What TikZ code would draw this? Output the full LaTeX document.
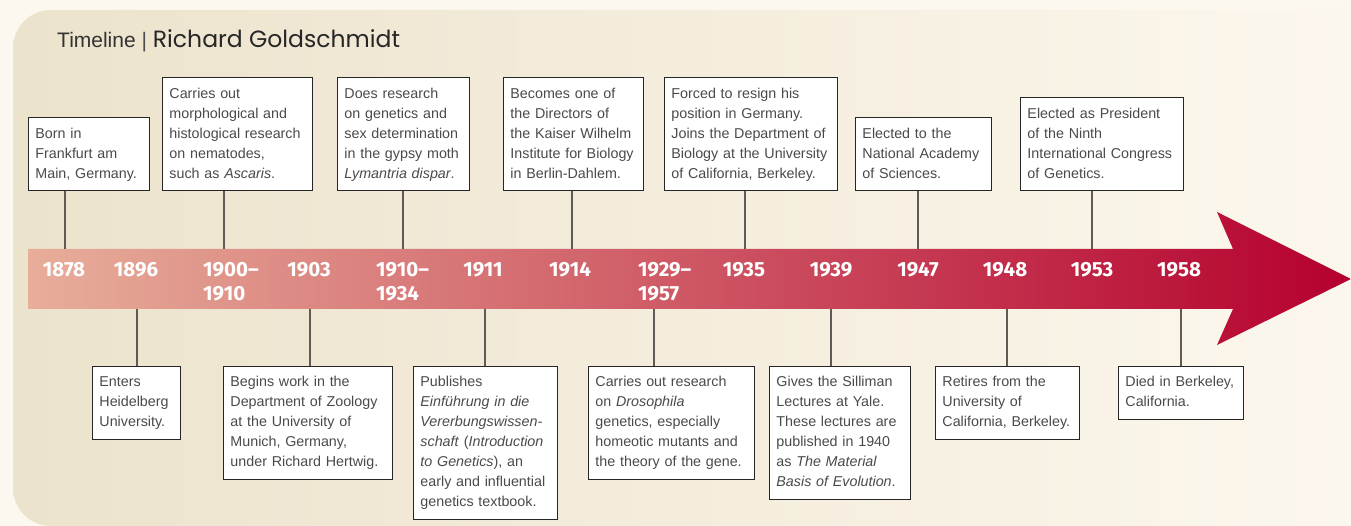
\documentclass[tikz,border=0pt]{standalone}
\usepackage{fontspec}
\setmainfont{Liberation Sans}
\newfontfamily\yearfont{Fira Sans}
\newfontfamily\titlefont{Poppins}
\usetikzlibrary{positioning}
\definecolor{bgCream}{HTML}{FDF8EF}
\definecolor{panelL}{HTML}{ECE3CC}
\definecolor{panelM}{HTML}{F3ECDC}
\definecolor{arrowL}{HTML}{E7AE9A}
\definecolor{arrowM}{HTML}{D47A69}
\definecolor{arrowR}{HTML}{B5002E}
\definecolor{bodyGray}{HTML}{4A4A4A}
\definecolor{tickGray}{HTML}{5F5A55}

\begin{document}
\begin{tikzpicture}[
    x=1pt, y=-1pt,
    font=\fontsize{14.3}{20}\selectfont,
    evt/.style={draw=black!85, line width=0.9pt, fill=white, text=bodyGray,
                align=left, inner xsep=7pt, inner ysep=6.5pt,
                execute at begin node={\hyphenpenalty=10000\strut}, execute at end node=\strut},
    up/.style={evt, anchor=south west},
    down/.style={evt, anchor=north west},
    yr/.style={text=white, inner sep=0pt, align=left,
               font=\yearfont\bfseries\fontsize{20.5}{24}\selectfont},
    tick/.style={draw=tickGray, line width=1.4pt},
  ]
    % background and panel
    \fill[bgCream] (0,0) rectangle (1351,526);
    \useasboundingbox (0,0) rectangle (1351,526);
    \shade[left color=panelL, middle color=panelM, right color=bgCream, rounded corners=38pt]
      (1420,10) -- (13,10) -- (13,526) -- (1420,526) -- cycle;

    % title
    \node[anchor=base west, inner sep=0pt, font=\fontsize{21}{24}\selectfont] (title) at (57,48)
      {\color{black!80}Timeline \textcolor{black!70}{|} {\titlefont\fontsize{23.5}{24}\selectfont\color{black!85}Richard Goldschmidt}};

    % the arrow
    \shade[left color=arrowL, middle color=arrowM, right color=arrowR]
      (28,249) -- (1233,249) -- (1217,212) -- (1351,279) -- (1217,345)
      -- (1233,309) -- (28,309) -- cycle;

    % tick points on the bar
    \coordinate (k1878) at (65,249);
    \coordinate (k1896) at (137,309);
    \coordinate (k1900) at (224,249);
    \coordinate (k1903) at (310,309);
    \coordinate (k1910) at (403,249);
    \coordinate (k1911) at (485,309);
    \coordinate (k1914) at (572,249);
    \coordinate (k1929) at (654,309);
    \coordinate (k1935) at (745,249);
    \coordinate (k1939) at (831,309);
    \coordinate (k1947) at (918,249);
    \coordinate (k1948) at (1007,309);
    \coordinate (k1953) at (1092,249);
    \coordinate (k1958) at (1181,309);

    % years
    \node[yr, anchor=north] (y1878) at (64,262) {1878};
    \node[yr, anchor=north] (y1896) at (136,262) {1896};
    \node[yr, anchor=north west] (y1900) at (203,262) {1900–\\1910};
    \node[yr, anchor=north] (y1903) at (309,262) {1903};
    \node[yr, anchor=north west] (y1910) at (376,262) {1910–\\1934};
    \node[yr, anchor=north] (y1911) at (483,262) {1911};
    \node[yr, anchor=north] (y1914) at (570,262) {1914};
    \node[yr, anchor=north west] (y1929) at (638,262) {1929–\\1957};
    \node[yr, anchor=north] (y1935) at (744,262) {1935};
    \node[yr, anchor=north] (y1939) at (831,262) {1939};
    \node[yr, anchor=north] (y1947) at (918,262) {1947};
    \node[yr, anchor=north] (y1948) at (1005,262) {1948};
    \node[yr, anchor=north] (y1953) at (1092,262) {1953};
    \node[yr, anchor=north] (y1958) at (1179,262) {1958};

    % events above the arrow
    \node[up, text width=107pt] (born) at (28,191)
      {Born in\\Frankfurt am\\Main, Germany.};
    \node[up, text width=136pt] (morph) at (162,191)
      {Carries out\\morphological and\\histological research\\on nematodes,\\such as \textit{Ascaris}.};
    \node[up, text width=118pt] (moth) at (337,191)
      {Does research\\on genetics and\\sex determination\\in the gypsy moth\\\textit{Lymantria dispar}.};
    \node[up, text width=126pt] (kwi) at (503,191)
      {Becomes one of\\the Directors of\\the Kaiser Wilhelm\\Institute for Biology\\in Berlin-Dahlem.};
    \node[up, text width=159pt] (resign) at (664,191)
      {Forced to resign his\\position in Germany.\\Joins the Department of\\Biology at the University\\of California, Berkeley.};
    \node[up, text width=122pt] (nas) at (855,191)
      {Elected to the\\National Academy\\of Sciences.};
    \node[up, text width=149pt] (congress) at (1020,191)
      {Elected as President\\of the Ninth\\International Congress\\of Genetics.};

    % events below the arrow
    \node[down, text width=74pt] (heid) at (92,366)
      {Enters\\Heidelberg\\University.};
    \node[down, text width=155pt] (zoology) at (223,366)
      {Begins work in the\\Department of Zoology\\at the University of\\Munich, Germany,\\under Richard Hertwig.};
    \node[down, text width=130pt] (book) at (413,366)
      {Publishes\\\textit{Einführung in die}\\\textit{Vererbungswissen-}\\\textit{schaft} (\textit{Introduction}\\\textit{to Genetics}), an\\early and influential\\genetics textbook.};
    \node[down, text width=152pt] (droso) at (588,366)
      {Carries out research\\on \textit{Drosophila}\\genetics, especially\\homeotic mutants and\\the theory of the gene.};
    \node[down, text width=127pt] (yale) at (769,366)
      {Gives the Silliman\\Lectures at Yale.\\These lectures are\\published in 1940\\as \textit{The Material}\\\textit{Basis of Evolution}.};
    \node[down, text width=130pt] (retire) at (935,366)
      {Retires from the\\University of\\California, Berkeley.};
    \node[down, text width=111pt] (died) at (1118,366)
      {Died in Berkeley,\\California.};

    % ticks
    \draw[tick] (born.south -| k1878) -- (k1878);
    \draw[tick] (morph.south -| k1900) -- (k1900);
    \draw[tick] (moth.south -| k1910) -- (k1910);
    \draw[tick] (kwi.south -| k1914) -- (k1914);
    \draw[tick] (resign.south -| k1935) -- (k1935);
    \draw[tick] (nas.south -| k1947) -- (k1947);
    \draw[tick] (congress.south -| k1953) -- (k1953);
    \draw[tick] (k1896) -- (heid.north -| k1896);
    \draw[tick] (k1903) -- (zoology.north -| k1903);
    \draw[tick] (k1911) -- (book.north -| k1911);
    \draw[tick] (k1929) -- (droso.north -| k1929);
    \draw[tick] (k1939) -- (yale.north -| k1939);
    \draw[tick] (k1948) -- (retire.north -| k1948);
    \draw[tick] (k1958) -- (died.north -| k1958);
  \end{tikzpicture}
\end{document}
